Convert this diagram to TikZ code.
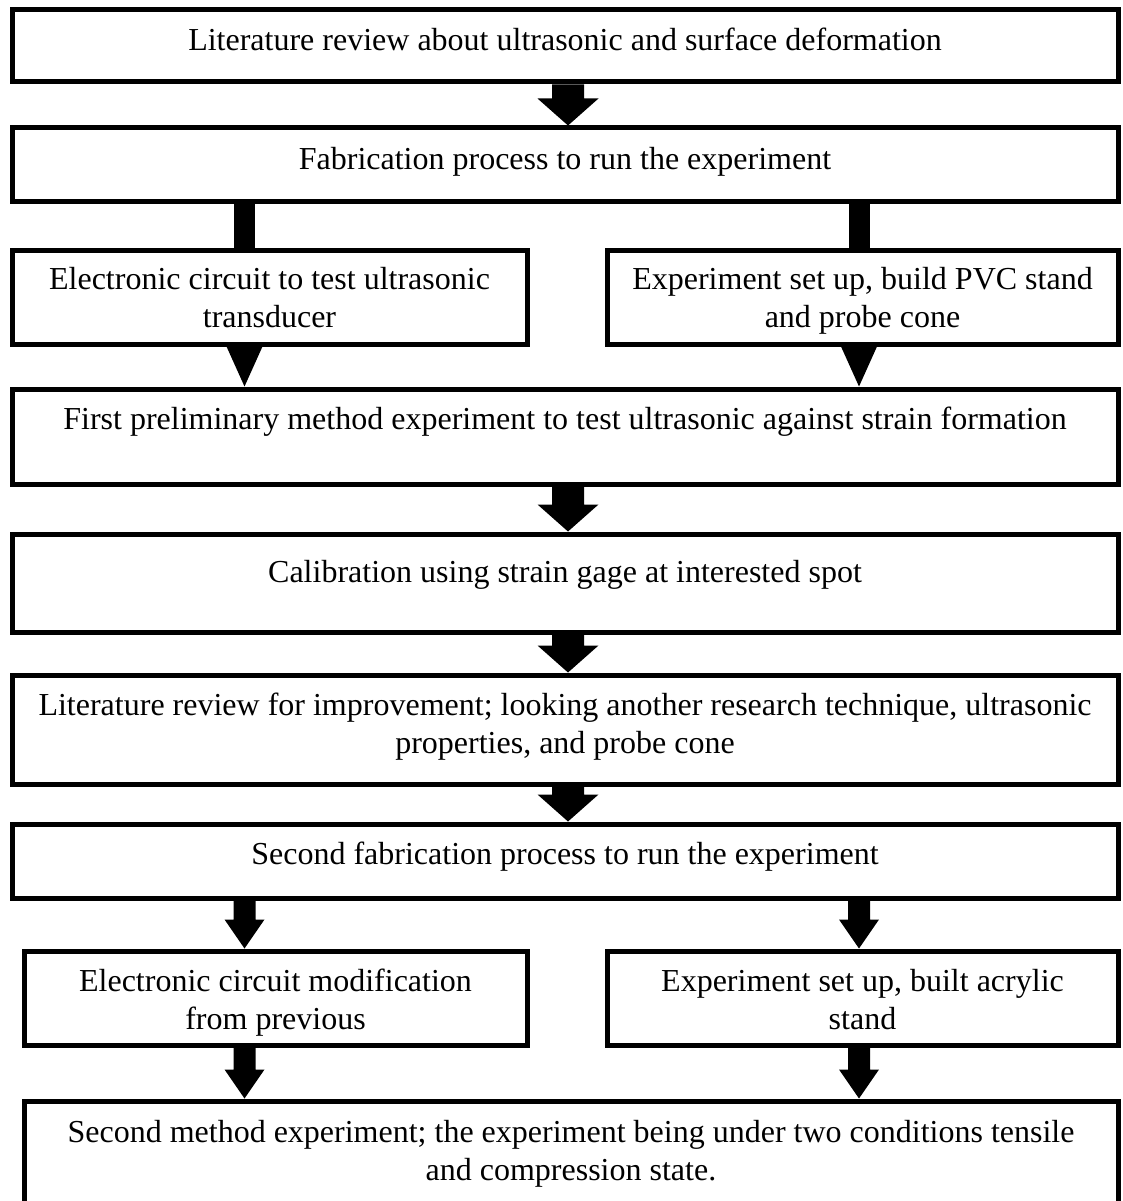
\documentclass[tikz,border=0pt]{standalone}
\usepackage{fontspec}
\setmainfont{Liberation Serif}
\usetikzlibrary{calc}
\tikzset{
  box/.style={draw=black, line width=5pt, fill=none, inner sep=0pt, outer sep=2.5pt},
  txt/.style={inner sep=0pt, outer sep=0pt, align=center, font=\fontsize{32}{37.5}\selectfont},
  bar/.style={line width=21pt, draw=black}
}
\newcommand{\myblockarrow}[6]{%
  \fill[black] let \p1=(#1 |- #2.south), \p2=(#1 |- #3.north) in
    (\x1-#4pt,\y1) -- (\x1+#4pt,\y1) -- (\x1+#4pt,\y2+#6pt) -- (\x1+#5pt,\y2+#6pt)
    -- (\x2,\y2) -- (\x1-#5pt,\y2+#6pt) -- (\x1-#4pt,\y2+#6pt) -- cycle;}
\newcommand{\mytriarrow}[4]{%
  \fill[black] let \p1=(#1 |- #2.south), \p2=(#1 |- #3.north) in
    (\x1-#4pt,\y1) -- (\x1+#4pt,\y1) -- (\x2,\y2) -- cycle;}
\begin{document}
\begin{tikzpicture}[x=1pt,y=-1pt]
\clip (0,0) rectangle (1122,1201);
\fill[white] (0,0) rectangle (1122,1201);
% columns
\coordinate (cM) at (568,0);
\coordinate (cL) at (244.5,0);
\coordinate (cR) at (859,0);
% boxes
\node[box, minimum width=1106pt, minimum height=72.5pt] (b1) at (565,45.75) {};
\node[box, minimum width=1106pt, minimum height=73pt] (b2) at (565,164.5) {};
\node[box, minimum width=515pt, minimum height=94pt] (b3) at (269.5,297) {};
\node[box, minimum width=511pt, minimum height=94pt] (b4) at (862.5,297) {};
\node[box, minimum width=1106pt, minimum height=95pt] (b5) at (565,436.5) {};
\node[box, minimum width=1106pt, minimum height=98pt] (b6) at (565,583) {};
\node[box, minimum width=1106pt, minimum height=109pt] (b7) at (565,729.5) {};
\node[box, minimum width=1106pt, minimum height=74pt] (b8) at (565,861) {};
\node[box, minimum width=503pt, minimum height=94pt] (b9) at (275.5,998) {};
\node[box, minimum width=511pt, minimum height=94pt] (b10) at (862.5,998) {};
\node[box, minimum width=1094pt, minimum height=120pt] (b11) at (571,1161) {};
% texts (base anchor = baseline of the last line)
\node[txt, anchor=base] (t1) at (565,51) {Literature review about ultrasonic and surface deformation};
\node[txt, anchor=base] (t2) at (565,170) {Fabrication process to run the experiment};
\node[txt, anchor=base] (t3) at (269.5,327) {Electronic circuit to test ultrasonic\\transducer};
\node[txt, anchor=base] (t4) at (862.5,327) {Experiment set up, build PVC stand\\and probe cone};
\node[txt, anchor=base] (t5) at (565,429) {First preliminary method experiment to test ultrasonic against strain formation};
\node[txt, anchor=base] (t6) at (565,582) {Calibration using strain gage at interested spot};
\node[txt, anchor=base] (t7) at (565,753) {Literature review for improvement; looking another research technique, ultrasonic\\properties, and probe cone};
\node[txt, anchor=base] (t8) at (565,864) {Second fabrication process to run the experiment};
\node[txt, anchor=base] (t9) at (275.5,1029) {Electronic circuit modification\\from previous};
\node[txt, anchor=base] (t10) at (862.5,1029) {Experiment set up, built acrylic\\stand};
\node[txt, anchor=base] (t11) at (571,1180) {Second method experiment; the experiment being under two conditions tensile\\and compression state.};
% connectors
\myblockarrow{cM}{b1}{b2}{16}{30.5}{27}
\draw[bar] (cL |- b2.south) -- (cL |- b3.north);
\draw[bar] (cR |- b2.south) -- (cR |- b4.north);
\mytriarrow{cL}{b3}{b5}{18}
\mytriarrow{cR}{b4}{b5}{18}
\myblockarrow{cM}{b5}{b6}{16}{30.5}{27}
\myblockarrow{cM}{b6}{b7}{16}{30.5}{27}
\myblockarrow{cM}{b7}{b8}{16}{30.5}{27}
\myblockarrow{cL}{b8}{b9}{11}{20}{29}
\myblockarrow{cR}{b8}{b10}{11}{20}{29}
\myblockarrow{cL}{b9}{b11}{11}{20}{29}
\myblockarrow{cR}{b10}{b11}{11}{20}{29}
\end{tikzpicture}
\end{document}
